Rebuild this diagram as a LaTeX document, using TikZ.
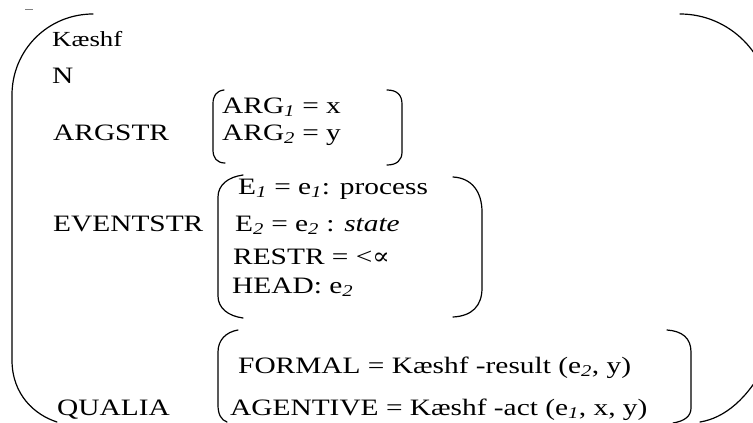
\documentclass[tikz,border=0pt]{standalone}
\usepackage{fontspec}
\setmainfont[FakeStretch=1.25]{Liberation Serif}
\newfontfamily\symfont[FakeStretch=1.1]{DejaVu Serif}
\newcommand\ssub[1]{\textsubscript{\itshape #1}}

\begin{document}
\begin{tikzpicture}[x=1pt,y=-1pt,
  lbl/.style={anchor=base west, inner sep=0pt, font=\fontsize{23.5}{28}\selectfont},
  small/.style={lbl, font=\fontsize{21.5}{25}\selectfont},
  brk/.style={line width=1.2pt, line cap=round, line join=round}]
\useasboundingbox (0,0) rectangle (753,423);

% stray tick at the top left
\draw[gray, line width=0.6pt] (25,9) -- (33,9);

% outer bracket, left side
\draw[brk] (93,14) .. controls (48,14) and (12,50) .. (12,95)
  -- (12,360) .. controls (12,395) and (35,415) .. (57,422);

% outer bracket, right side (runs past the edge)
\begin{scope}
  \clip (0,0) rectangle (753,423);
  \draw[brk] (680,14) .. controls (729.5,14) and (770,54.5) .. (770,104);
  \draw[brk] (700,422) .. controls (725,418) and (748,398) .. (765,365);
\end{scope}

% ARGSTR brackets
\draw[brk] (224,90) .. controls (216,91) and (213,96) .. (213,104)
  -- (213,150) .. controls (213,158) and (217,163) .. (225,163);
\draw[brk] (387,90) .. controls (397,90) and (402,95) .. (402,104)
  -- (402,152) .. controls (402,160) and (397,165) .. (387,165);

% EVENTSTR brackets
\draw[brk] (243,175) .. controls (228,177) and (218,185) .. (218,197)
  -- (218,296) .. controls (218,308) and (228,316) .. (243,318);
\draw[brk] (453,177) .. controls (472,178) and (482,192) .. (482,212)
  -- (482,288) .. controls (482,306) and (472,316) .. (453,317);

% QUALIA brackets
\draw[brk] (238,330) .. controls (226,332) and (218,340) .. (218,352)
  -- (218,405) .. controls (218,414) and (221,420) .. (227,422);
\draw[brk] (667,330) .. controls (682,331) and (691,338) .. (691,352)
  -- (691,408) .. controls (691,416) and (685,421) .. (673,423);

% entries
\node[small] (kaeshf) at (52,46) {Kæshf};
\node[lbl] (cat) at (52,83) {N};

\node[lbl] (argstr) at (53,140) {ARGSTR};
\node[lbl] (arg1) at (222,113) {ARG\ssub{1} = x};
\node[lbl] (arg2) at (222,140) {ARG\ssub{2} = y};

\node[lbl] (eventstr) at (53,231) {EVENTSTR};
\node[lbl] (e1) at (238,194) {E\ssub{1} = e\ssub{1}: process};
\node[lbl] (e2) at (235,231) {E\ssub{2} = e\ssub{2} : \textit{state}};
\node[lbl] (restr) at (233,264) {RESTR = <{\symfont ∝}};
\node[lbl] (head) at (232,293) {HEAD: e\ssub{2}};

\node[lbl] (qualia) at (57,415) {QUALIA};
\node[lbl] (formal) at (238,373) {FORMAL = Kæshf -result (e\ssub{2}, y)};
\node[lbl] (agentive) at (230,415) {AGENTIVE = Kæshf -act (e\ssub{1}, x, y)};
\end{tikzpicture}
\end{document}
